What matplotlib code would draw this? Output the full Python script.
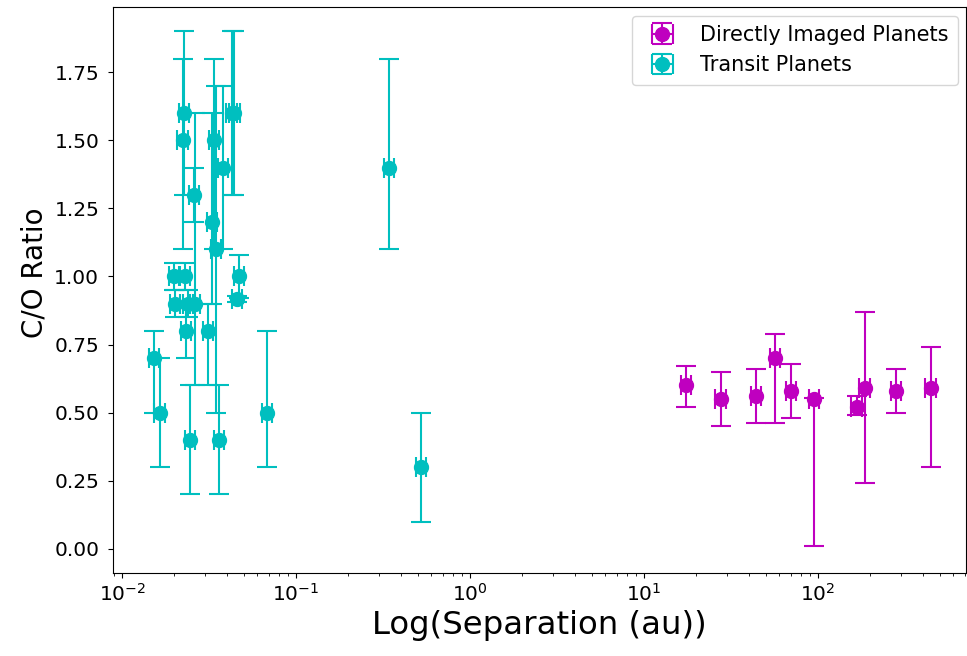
import numpy as np
import matplotlib
matplotlib.use("Agg")
import matplotlib.pyplot as plt

# Directly imaged planets
di_sep = [17.4, 27.6, 44.0, 56.6, 70.0, 94.8, 166.9, 185.5, 281.6, 444.0]
di_co = [0.60, 0.55, 0.56, 0.70, 0.58, 0.55, 0.52, 0.59, 0.58, 0.59]
di_co_lo = [0.08, 0.10, 0.10, 0.24, 0.10, 0.54, 0.03, 0.35, 0.08, 0.29]
di_co_hi = [0.07, 0.10, 0.10, 0.09, 0.10, 0.005, 0.04, 0.28, 0.08, 0.15]
di_sep_err = [1.2, 1.9, 3.0, 3.9, 4.9, 6.6, 11.7, 13.0, 19.7, 31.0]

# Transit planets
tr_sep = [0.0153, 0.0165, 0.0199, 0.0202, 0.0227, 0.0224, 0.0230, 0.0233,
          0.0240, 0.0246, 0.0259, 0.0263, 0.0312, 0.0329, 0.0338, 0.0347,
          0.0361, 0.0381, 0.0427, 0.0442, 0.0470, 0.0458, 0.0681, 0.342,
          0.523]
tr_co = [0.70, 0.50, 1.00, 0.90, 1.60, 1.50, 1.00, 0.80,
         0.90, 0.40, 1.30, 0.90, 0.80, 1.20, 1.50, 1.10,
         0.40, 1.40, 1.60, 1.60, 1.00, 0.917, 0.50, 1.40,
         0.30]
tr_co_lo = [0.20, 0.20, 0.05, 0.05, 0.30, 0.40, 0.05, 0.10,
            0.05, 0.20, 0.10, 0.30, 0.20, 0.30, 0.40, 0.60,
            0.20, 0.30, 0.30, 0.30, 0.08, 0.012, 0.20, 0.30,
            0.20]
tr_co_hi = [0.10, 0.20, 0.05, 0.05, 0.30, 0.30, 0.05, 0.10,
            0.05, 0.20, 0.10, 0.70, 0.10, 0.40, 0.30, 0.60,
            0.20, 0.30, 0.30, 0.30, 0.08, 0.012, 0.30, 0.40,
            0.20]
tr_sep_err = [0.0011, 0.0012, 0.0014, 0.0014, 0.0016, 0.0016, 0.0016, 0.0016,
              0.0017, 0.0017, 0.0018, 0.0018, 0.0022, 0.0023, 0.0024, 0.0024,
              0.0025, 0.0027, 0.0030, 0.0031, 0.0033, 0.0032, 0.0048, 0.024,
              0.037]

fig = plt.figure(figsize=(9.67, 6.56), dpi=100)
ax = fig.add_axes([0.117, 0.127, 0.882, 0.862])

ax.errorbar(di_sep, di_co, yerr=[di_co_lo, di_co_hi], xerr=di_sep_err,
            fmt='o', color='m', ms=10, capsize=7, elinewidth=1.5,
            capthick=1.5, label='Directly Imaged Planets')
ax.errorbar(tr_sep, tr_co, yerr=[tr_co_lo, tr_co_hi], xerr=tr_sep_err,
            fmt='o', color='c', ms=10, capsize=7, elinewidth=1.5,
            capthick=1.5, label='Transit Planets')

ax.set_xscale('log')
ax.set_xlim(0.00888, 709)
ax.set_ylim(-0.088, 1.989)
ax.set_xlabel('Log(Separation (au))', fontsize=23.3)
ax.set_ylabel('C/O Ratio', fontsize=20)
ax.yaxis.set_label_coords(-0.076, 0.53)
ax.tick_params(labelsize=14.5)
ax.tick_params(axis='y', pad=6.5)
ax.legend(loc='upper right', fontsize=15, borderaxespad=0.4,
          labelspacing=0.5, borderpad=0.45)

plt.savefig('out.png', dpi=100)
